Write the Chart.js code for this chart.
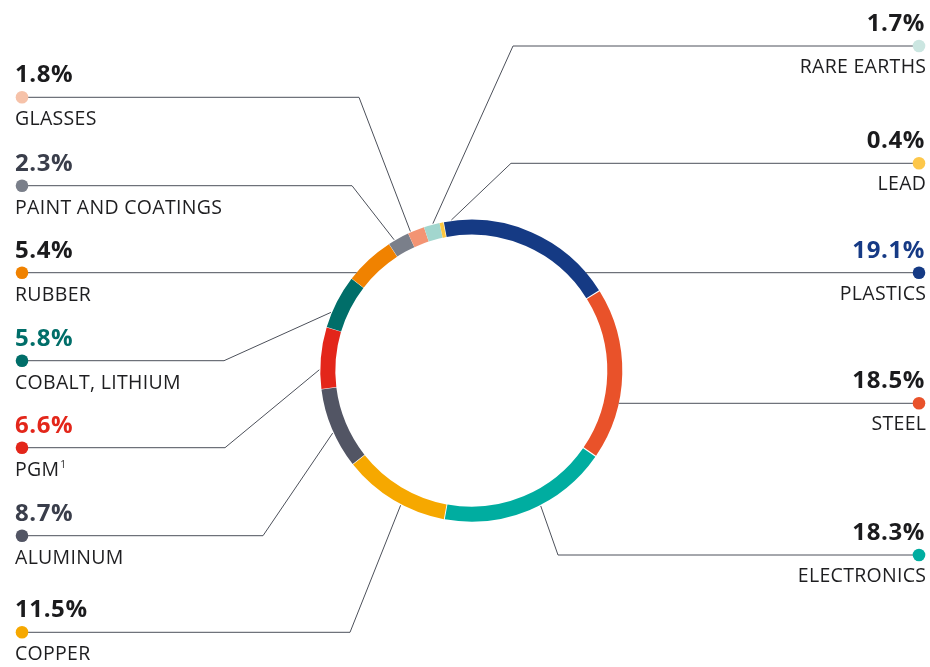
<!DOCTYPE html>
<html>
<head>
<meta charset="utf-8">
<script src="https://cdn.jsdelivr.net/npm/chart.js@4.4.0/dist/chart.umd.min.js"></script>
<style>
  html, body { margin: 0; padding: 0; background: #ffffff; }
  #wrap { width: 930px; height: 667px; position: relative; }
</style>
</head>
<body>
<div id="wrap"><canvas id="c" width="930" height="667"></canvas></div>
<script>
// ---- data ----
const categories = ['PLASTICS', 'STEEL', 'ELECTRONICS', 'COPPER', 'ALUMINUM', 'PGM', 'COBALT, LITHIUM', 'RUBBER', 'PAINT AND COATINGS', 'GLASSES', 'RARE EARTHS', 'LEAD'];
const shares = [19.1, 18.5, 18.3, 11.5, 8.7, 6.6, 5.8, 5.4, 2.3, 1.8, 1.7, 0.4];
const footnotes = ['', '', '', '', '', '1', '', '', '', '', '', ''];

// ---- styles ----
const segmentColors = ['#153a84', '#e9522a', '#00ada0', '#f6a800', '#525564', '#e3261a', '#006e69', '#f08200', '#7a7f8a', '#f39473', '#a2d6ce', '#fdc740'];
const dotColors = ['#153a84', '#e9522a', '#00ada0', '#f6a800', '#525564', '#e3261a', '#006e69', '#f08200', '#7a7f8a', '#f6c2a9', '#cbe6e1', '#fdc74a'];
const pctColors = ['#163a85', '#1b1b1d', '#1b1b1d', '#1b1b1d', '#3a3e4b', '#e3261a', '#006e69', '#1b1b1d', '#3a3e4b', '#1b1b1d', '#1b1b1d', '#1b1b1d'];

// ---- label layout ----
const labelSide = ['right', 'right', 'right', 'left', 'left', 'left', 'left', 'left', 'left', 'left', 'right', 'right'];
const dotY = [272.7, 403.3, 555, 632.3, 535.7, 447.7, 360.7, 272.7, 185.7, 97.3, 46, 163.3];
const elbowX = [null, null, 558, 350, 263, 225, 224, null, 352, 359, 513, 511];
const anchorFrac = [0.5, 0.5, 0.43, 0.42, 0.45, 0.31, 0.28, 0.5, 0.3, 0.17, 0.59, 3.2];

const LEFT_DOT_X = 22, RIGHT_DOT_X = 919, LEFT_TEXT_X = 15, RIGHT_TEXT_X = 926;
const FONT = '"Open Sans", "DejaVu Sans", sans-serif';

const leaderPlugin = {
  id: 'leaders',
  afterDatasetsDraw(chart) {
    const ctx = chart.ctx;
    const meta = chart.getDatasetMeta(0);
    meta.data.forEach((arc, i) => {
      const p = arc.getProps(['x', 'y', 'startAngle', 'endAngle', 'outerRadius'], true);
      const cx = p.x, cy = p.y, r = p.outerRadius;
      const right = labelSide[i] === 'right';
      const dx = right ? RIGHT_DOT_X : LEFT_DOT_X;
      const dy = dotY[i];
      ctx.save();
      ctx.strokeStyle = '#4c505a';
      ctx.lineWidth = 1;
      ctx.beginPath();
      ctx.moveTo(dx, dy);
      if (elbowX[i] === null) {
        const off = Math.sqrt(Math.max(r * r - (dy - cy) * (dy - cy), 0));
        ctx.lineTo(right ? cx + off + 1 : cx - off - 1, dy);
      } else {
        const a = p.startAngle + anchorFrac[i] * (p.endAngle - p.startAngle);
        ctx.lineTo(elbowX[i], dy);
        ctx.lineTo(cx + (r + 2) * Math.cos(a), cy + (r + 2) * Math.sin(a));
      }
      ctx.stroke();
      // dot
      ctx.fillStyle = dotColors[i];
      ctx.beginPath();
      ctx.arc(dx, dy, 6.3, 0, Math.PI * 2);
      ctx.fill();
      // texts
      ctx.textAlign = right ? 'right' : 'left';
      ctx.textBaseline = 'alphabetic';
      const tx = right ? RIGHT_TEXT_X : LEFT_TEXT_X;
      ctx.fillStyle = pctColors[i];
      ctx.font = '700 24px ' + FONT;
      ctx.letterSpacing = '0.6px';
      ctx.fillText(shares[i].toFixed(1) + '%', tx - (right ? 1 : 0), dy - 15);
      ctx.fillStyle = '#1e1e20';
      ctx.font = '400 19.5px ' + FONT;
      ctx.letterSpacing = '0.3px';
      const catY = dy + (right ? 27 : 28);
      ctx.fillText(categories[i], tx + (right ? 0.3 : 0), catY);
      if (footnotes[i]) {
        const w = ctx.measureText(categories[i]).width;
        ctx.font = '400 10px ' + FONT;
        ctx.letterSpacing = '0px';
        ctx.textAlign = 'left';
        ctx.fillText(footnotes[i], right ? tx + 1 : tx + w + 1, catY - 8);
      }
      ctx.restore();
    });
  }
};

new Chart(document.getElementById('c'), {
  type: 'doughnut',
  data: {
    labels: categories,
    datasets: [{
      data: shares,
      backgroundColor: segmentColors,
      borderWidth: 0,
      spacing: 2
    }]
  },
  options: {
    responsive: false,
    animation: false,
    rotation: -10.7,
    cutout: '90%',
    layout: { padding: { left: 320.3, top: 219.7, right: 307.7, bottom: 145.3 } },
    plugins: { legend: { display: false }, tooltip: { enabled: false } }
  },
  plugins: [leaderPlugin]
});
</script>
</body>
</html>
